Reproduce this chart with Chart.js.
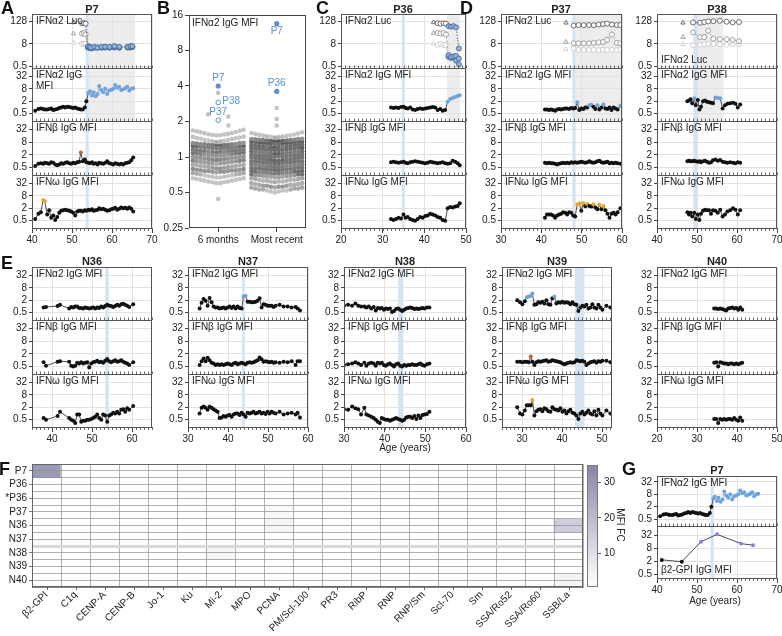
<!DOCTYPE html>
<html>
<head>
<meta charset="utf-8">
<script src="https://cdn.jsdelivr.net/npm/chart.js@4.4.1/dist/chart.umd.min.js"></script>
<style>
  html, body { margin: 0; background: #fff; }
  #fig { position: relative; width: 782px; height: 636px; overflow: hidden; font-family: "Liberation Sans", Arial, sans-serif; color: #222; }
  #fig canvas { position: absolute; }
  .letter { position: absolute; font-size: 18px; font-weight: bold; line-height: 1; color: #111; }
  .title { position: absolute; font-size: 11px; font-weight: bold; transform: translate(-50%, -50%); white-space: nowrap; }
  .axis-title { position: absolute; font-size: 10px; transform: translate(-50%, -50%); white-space: nowrap; }
  .axis-title.vertical { transform: translate(-50%, -50%) rotate(90deg); }
</style>
</head>
<body>
<div id="fig"></div>
<script>
// ---------- P7 ----------
const p7Ages = [40.8, 41.6, 42.2, 42.8, 43.2, 43.8, 44.3, 44.8, 45.3, 45.8,
  46.3, 46.8, 47.3, 47.8, 48.3, 48.8, 49.3, 49.8, 50.3, 50.8,
  51.3, 51.8, 52.2, 52.7, 53.2, 53.6, 54.1, 54.5, 55.0, 55.4,
  55.9, 56.4, 56.8, 57.3, 57.8, 58.3, 58.8, 59.3, 59.8, 60.3,
  60.8, 61.3, 61.8, 62.3, 62.8, 63.3, 63.8, 64.3, 64.8, 65.3]
const p7A2 = [0.7, 0.85, 0.9, 0.85, 0.8, 0.8, 0.85, 0.9, 0.75, 0.8,
  0.85, 0.95, 1.0, 1.1, 1.0, 1.1, 1.05, 1.0, 0.95, 1.0,
  0.9, 0.85, 0.8, 0.8, 1.0, 2.0, 5.0, 6.0, 3.8, 5.5,
  3.5, 4.5, 11, 7, 5.5, 8, 4.5, 6.5, 7, 8,
  12, 9, 10, 7, 7.5, 8.5, 10, 6.5, 8, 8.5]
const p7B = [0.6, 0.75, 0.8, 0.75, 0.85, 0.8, 0.75, 0.9, 0.85, 0.7,
  0.65, 0.7, 0.8, 0.75, 0.85, 0.9, 0.8, 0.75, 0.85, 0.8,
  0.9, 0.95, 2.6, 1.0, 1.2, 0.9, 0.85, 0.8, 0.9, 0.75,
  0.8, 0.7, 0.85, 0.8, 0.75, 0.85, 1.0, 0.8, 0.75, 0.7,
  0.8, 0.75, 0.7, 0.75, 0.7, 0.8, 0.85, 0.9, 1.1, 1.5]
const p7W = [0.6, 1.1, 1.3, 5.0, 4.3, 1.0, 1.6, 0.7, 0.9, 0.55,
  0.75, 1.2, 1.5, 1.6, 1.7, 1.6, 1.5, 1.4, 1.2, 0.9,
  1.4, 1.5, 1.5, 1.4, 1.6, 1.5, 1.7, 1.6, 1.8, 1.5,
  1.6, 1.7, 2.0, 1.8, 1.9, 1.7, 1.5, 1.6, 1.8, 1.9,
  2.1, 1.7, 1.9, 2.2, 2.0, 2.1, 1.9, 2.2, 1.9, 1.4]
const p7A2Pos = Array.from({ length: 24 }, (_, i) => 26 + i)
const p7BPos = [22]
const p7WPos = [3, 4]
const p7LucAges = [50.4, 52.5, 53.0, 53.4, 54.0, 54.4, 54.8, 55.6, 56.4, 57.4, 58.3, 59.4, 60.6, 61.8, 63.9, 64.6, 65.1]
const p7LucHigh = [110, 100, 100, 95, 6, 5.5, 5, 5.5, 5, 5.5, 5.5, 5.5, 6, 5.5, 5.5, 6, 6]
const p7LucMid = [28, 28, 30, 25, 5.5, 5, 5, 5, 5, 5, 5.5, 5, 5.5, 5, 5.5, 5.5, 5.5]
const p7LucLow = [9, 8, 8, 8, 5, 5, 4.5, 5, 5, 5, 5, 5, 5, 5, 5, 5, 5.5]
const p7LucPosFrom = 4
const p7Onset = [53.4, 54.2]
const p7After = [54.2, 65.8]

// ---------- P36 ----------
const p36Ages = [32.0, 32.6, 33.2, 33.8, 34.4, 35.0, 35.5, 36.0, 36.6, 37.2,
  37.8, 38.4, 39.0, 39.6, 40.2, 40.8, 41.4, 42.0, 42.6, 43.2,
  43.8, 44.4, 45.0, 45.6, 46.2, 46.8, 47.4, 48.0, 48.5]
const p36A2 = [1.0, 0.95, 1.0, 0.95, 1.05, 1.1, 0.95, 0.9, 1.0, 0.8,
  0.75, 0.85, 0.9, 0.85, 0.9, 0.95, 1.0, 1.05, 1.0, 0.75,
  0.85, 0.7, 0.75, 1.9, 2.6, 2.9, 3.2, 3.6, 3.9]
const p36B = [0.9, 0.95, 0.9, 0.85, 0.9, 0.95, 0.85, 0.8, 0.9, 0.95,
  1.0, 0.95, 0.9, 0.85, 0.8, 0.85, 0.95, 0.9, 0.85, 0.8,
  0.85, 0.9, 0.8, 0.75, 0.8, 1.05, 0.95, 0.8, 0.65]
const p36W = [0.6, 0.55, 0.6, 0.7, 0.65, 1.0, 0.7, 0.75, 0.6, 0.55,
  0.5, 0.6, 0.75, 0.7, 0.85, 0.9, 1.1, 1.0, 0.9, 0.75,
  0.7, 0.55, 0.5, 2.0, 2.3, 2.2, 2.4, 2.6, 3.5]
const p36A2Pos = [23, 24, 25, 26, 27, 28]
const p36LucAges = [42.2, 43.2, 43.9, 44.6, 45.2, 45.8, 46.4, 47.0, 47.6, 48.3]
const p36LucHigh = [110, 100, 95, 100, 95, 70, 65, 70, 60, 4.5]
const p36LucMid = [30, 30, 28, 30, 25, 2.0, 1.6, 1.7, 1.8, 1.3]
const p36LucLow = [8, 7, 8, 7, 7, 1.6, 1.4, 1.5, 1.0, 0.65]
const p36LucPosFrom = 5
const p36Onset = [34.6, 35.3]
const p36After = [45.4, 48.6]

// ---------- P37 ----------
const p37Ages = [40.9, 41.4, 41.9, 42.4, 42.9, 43.4, 43.9, 44.4, 44.9, 45.4,
  45.9, 46.4, 46.9, 47.4, 47.9, 48.4, 48.9, 49.4, 49.9, 50.4,
  50.9, 51.4, 51.9, 52.4, 52.9, 53.4, 53.9, 54.4, 54.9, 55.4,
  55.9, 56.4, 56.9, 57.4, 57.9, 58.4, 58.9, 59.6]
const p37A2 = [0.8, 0.8, 0.75, 0.8, 0.75, 0.7, 0.8, 0.85, 0.8, 0.85,
  0.9, 0.9, 0.85, 0.95, 0.9, 0.95, 1.8, 0.75, 0.9, 0.85,
  1.0, 1.0, 1.3, 1.35, 1.1, 0.85, 1.3, 0.8, 1.0, 1.4,
  0.9, 0.85, 1.0, 0.75, 1.0, 0.9, 0.8, 1.2]
const p37B = [0.85, 0.8, 0.85, 0.8, 0.8, 0.75, 0.7, 0.75, 0.8, 0.85,
  0.8, 0.85, 0.8, 0.9, 0.85, 0.9, 0.85, 0.9, 0.95, 0.9,
  0.85, 0.9, 1.0, 0.9, 0.85, 0.9, 1.0, 1.05, 0.9, 0.85,
  0.9, 0.95, 0.8, 0.85, 0.8, 0.85, 0.8, 0.75]
const p37W = [0.7, 1.0, 1.0, 1.0, 0.9, 0.7, 0.9, 1.0, 1.1, 1.3,
  1.2, 1.0, 1.3, 1.2, 0.9, 0.8, 3.0, 3.4, 1.5, 3.5,
  2.5, 3.2, 2.6, 2.4, 3.1, 2.2, 1.8, 3.0, 1.8, 2.6,
  1.6, 1.1, 0.7, 1.1, 1.2, 1.0, 1.3, 2.0]
const p37A2Pos = [16, 22, 23, 26, 29, 37]
const p37WPos = [16, 17, 19, 21, 24, 27, 29]
const p37LucAges = [46.1, 48.0, 49.2, 50.5, 51.8, 53.0, 54.2, 55.3, 56.3, 57.5, 58.7, 59.6]
const p37LucHigh = [105, 75, 80, 78, 80, 78, 85, 90, 95, 85, 80, 80]
const p37LucMid = [10, 8.5, 8.5, 8.5, 8.5, 9, 9.5, 10, 13, 25, 9, 8.5]
const p37LucLow = [4, 4.5, 3.8, 3.7, 3.7, 3.8, 3.6, 3.8, 3.7, 3.8, 3.7, 3.8]
const p37Onset = [47.7, 48.5]
const p37After = [48.5, 60]

// ---------- P38 ----------
const p38Ages = [47.6, 48.0, 48.4, 48.8, 49.3, 49.7, 50.2, 50.6, 51.0, 51.5,
  52.0, 52.5, 53.0, 53.5, 54.0, 54.6, 55.2, 55.8, 56.4, 57.0,
  57.6, 58.3, 59.0, 59.6, 60.2, 60.8]
const p38A2 = [2.0, 2.2, 2.5, 1.6, 2.8, 1.3, 2.3, 0.8, 1.1, 2.0,
  2.2, 1.9, 1.8, 1.7, 1.6, 3.0, 2.9, 2.8, 0.9, 1.3,
  1.5, 1.6, 1.7, 1.5, 1.0, 1.4]
const p38B = [1.0, 1.05, 1.0, 1.0, 1.05, 1.0, 0.95, 1.0, 0.9, 1.0,
  1.05, 0.95, 0.85, 0.9, 1.1, 1.2, 1.05, 1.15, 0.95, 0.9,
  0.85, 0.9, 0.85, 0.8, 0.9, 0.85]
const p38W = [1.3, 1.0, 1.2, 0.8, 1.2, 0.6, 1.0, 0.55, 1.1, 1.5,
  1.7, 1.6, 1.6, 1.1, 1.6, 1.5, 1.2, 1.7, 0.8, 1.0,
  1.4, 1.6, 2.0, 1.7, 1.0, 1.6]
const p38A2Pos = [4, 15, 16, 17]
const p38LucAges = [46.5, 49.0, 50.8, 51.8, 52.8, 54.1, 55.7, 57.4, 58.9, 60.5]
const p38LucHigh = [105, 110, 105, 115, 125, 128, 135, 120, 110, 115]
const p38LucMid = [18, 32, 18, 18, 40, 15, 14, 14, 13, 11]
const p38LucLow = [7.5, 6.5, 7, 7.5, 8, 8, 7.5, 7, 7.5, 7.5]
const p38Onset = [49.1, 50.0]
const p38After = [50.0, 56.6]

// ---------- N36 - N40 ----------
const n36Ages = [37.9, 38.5, 41.4, 42.0, 44.3, 44.8, 45.3, 45.8, 46.3, 46.8,
  47.3, 47.8, 48.3, 48.8, 49.3, 49.8, 50.3, 50.8, 51.3, 51.8,
  52.3, 52.8, 53.3, 53.8, 54.3, 54.8, 55.3, 55.8, 56.3, 56.8,
  57.3, 57.8, 58.3, 58.8, 59.3, 60.3]
const n36A2 = [0.9, 0.95, 1.05, 1.2, 0.8, 0.95, 0.9, 1.0, 1.0, 0.85,
  0.85, 0.8, 0.9, 0.85, 0.8, 0.85, 0.9, 0.8, 0.9, 0.85,
  1.0, 0.9, 1.05, 1.2, 1.1, 1.05, 0.95, 1.05, 1.2, 1.1,
  1.3, 1.35, 1.2, 1.1, 0.95, 1.3]
const n36B = [0.8, 0.55, 0.85, 0.9, 0.85, 0.55, 0.5, 0.55, 0.75, 0.7,
  0.8, 0.7, 0.75, 0.8, 0.45, 0.7, 0.8, 0.85, 0.95, 0.8,
  0.85, 0.75, 0.95, 1.15, 0.9, 0.8, 0.9, 1.0, 0.85, 0.9,
  1.0, 0.85, 0.75, 0.7, 0.6, 0.8]
const n36W = [0.6, 0.5, 0.75, 1.2, 0.6, 0.5, 0.45, 0.35, 0.9, 0.9,
  0.4, 0.45, 0.45, 0.5, 0.5, 0.55, 0.6, 0.7, 0.9, 0.6,
  0.5, 0.9, 0.8, 0.4, 0.8, 0.9, 1.1, 1.0, 1.2, 1.0,
  1.5, 1.6, 1.2, 1.8, 1.5, 2.3]
const n36Onset = [53.3, 54.2]

const n37Ages = [32.9, 33.4, 33.9, 34.4, 34.9, 35.4, 35.9, 36.4, 36.9, 37.4,
  37.9, 38.4, 38.9, 39.4, 39.9, 40.4, 40.9, 41.4, 41.9, 42.4,
  42.9, 43.4, 43.9, 44.4, 44.9, 45.4, 45.9, 46.4, 46.9, 47.4,
  47.9, 48.4, 48.9, 49.4, 49.9, 50.4, 50.9, 51.4, 51.9, 52.9,
  53.9, 54.9, 55.9, 56.9, 57.4, 58.0]
const n37A2 = [0.8, 1.5, 2.3, 1.9, 1.1, 2.6, 1.6, 1.0, 0.9, 0.9,
  0.8, 0.85, 0.9, 0.8, 0.9, 1.0, 0.85, 1.0, 0.8, 1.0,
  0.85, 0.8, 3.0, 3.3, 1.7, 1.7, 1.6, 1.6, 1.7, 1.9,
  2.5, 0.9, 1.3, 1.2, 1.1, 1.1, 1.1, 0.95, 1.1, 1.2,
  1.0, 1.0, 0.9, 0.95, 0.8, 0.65]
const n37B = [0.6, 0.9, 1.2, 0.9, 1.3, 1.0, 0.75, 0.7, 0.6, 0.65,
  0.6, 0.65, 0.6, 0.65, 0.7, 0.65, 0.6, 0.7, 0.75, 0.65,
  0.7, 0.75, 0.7, 0.65, 0.75, 0.8, 0.75, 0.8, 0.9, 1.0,
  1.35, 1.1, 0.85, 0.9, 0.85, 0.8, 0.85, 0.75, 0.8, 0.75,
  0.85, 0.8, 0.9, 0.6, 0.9, 0.9]
const n37W = [1.0, 1.9, 2.2, 1.9, 1.5, 2.1, 1.9, 1.6, 1.4, 1.2,
  0.6, 0.65, 0.75, 0.7, 0.8, 0.85, 0.7, 0.9, 1.0, 1.0,
  0.85, 1.1, 0.9, 0.7, 1.1, 1.0, 1.1, 1.2, 1.0, 1.1,
  1.2, 1.0, 1.1, 0.95, 1.2, 1.0, 1.2, 1.1, 1.0, 1.2,
  0.9, 1.0, 1.1, 0.9, 1.1, 0.65]
const n37A2Pos = [22, 23]
const n37Onset = [43.5, 44.2]

const n38Ages = [30.0, 31.0, 32.0, 32.8, 33.5, 34.2, 35.0, 35.5, 36.1, 36.7,
  37.3, 37.8, 38.3, 38.8, 39.3, 39.8, 40.3, 40.8, 41.3, 41.8,
  42.3, 42.8, 43.3, 43.8, 44.3, 44.8, 45.3, 45.8, 46.3, 46.8,
  47.3, 47.8, 48.3, 48.8, 49.3, 49.8, 50.4, 51.0]
const n38A2 = [1.1, 1.2, 1.1, 1.4, 1.1, 1.0, 1.0, 0.9, 1.0, 0.8,
  0.95, 0.65, 0.85, 0.8, 0.85, 0.7, 0.8, 0.75, 0.8, 0.55,
  0.6, 0.75, 0.8, 0.7, 0.6, 0.7, 0.8, 0.85, 0.9, 0.85,
  0.75, 0.8, 0.75, 0.8, 0.85, 0.8, 0.9, 0.9]
const n38B = [0.6, 0.65, 0.7, 0.8, 0.7, 0.6, 0.75, 0.55, 0.7, 0.75,
  0.7, 0.55, 0.75, 0.7, 0.75, 0.6, 0.55, 0.65, 0.7, 0.6,
  0.5, 0.65, 0.7, 0.55, 0.5, 0.6, 0.55, 0.6, 0.6, 0.65,
  0.6, 0.6, 0.65, 0.7, 0.6, 0.55, 0.65, 0.7]
const n38W = [1.6, 1.5, 2.2, 1.8, 1.6, 0.9, 1.9, 0.9, 0.8, 0.7,
  0.6, 0.5, 0.4, 0.35, 0.6, 0.55, 0.5, 0.5, 0.45, 0.5,
  0.55, 0.6, 0.55, 0.5, 0.45, 0.5, 0.65, 0.7, 0.7, 0.6,
  0.75, 0.55, 0.8, 0.6, 0.85, 0.9, 0.95, 1.2]
const n38Onset = [43.3, 44.6]

const n39Ages = [28.8, 29.5, 30.1, 30.7, 31.2, 31.7, 32.2, 32.6, 33.1, 33.6,
  34.1, 34.6, 35.1, 35.6, 36.1, 36.6, 37.1, 37.6, 38.1, 38.6,
  39.1, 39.6, 40.1, 40.6, 41.1, 41.6, 42.1, 42.6, 43.1, 43.6,
  44.1, 44.6, 45.1, 45.6, 46.1, 46.6, 47.1, 47.6, 48.1, 48.6,
  49.1, 49.6, 50.1, 51.1, 52.1, 52.9]
const n39A2 = [2.0, 1.6, 1.3, 1.8, 2.8, 3.0, 3.2, 4.2, 1.2, 1.3,
  1.6, 1.5, 1.7, 1.4, 2.0, 1.3, 1.2, 2.5, 3.0, 1.4,
  1.6, 1.5, 1.7, 1.5, 1.6, 1.5, 1.3, 1.6, 1.3, 1.2,
  0.6, 0.9, 1.1, 1.0, 1.2, 0.8, 0.9, 1.3, 0.9, 0.8,
  1.2, 0.9, 0.7, 1.1, 0.9, 0.85]
const n39B = [0.85, 0.85, 0.8, 0.85, 0.85, 0.8, 1.5, 0.85, 0.6, 0.8,
  0.9, 0.85, 0.9, 0.95, 1.0, 0.85, 0.9, 1.0, 0.95, 0.9,
  0.85, 0.8, 0.7, 0.65, 0.7, 0.75, 0.8, 0.75, 0.8, 1.0,
  0.95, 0.9, 0.95, 0.85, 0.6, 0.7, 0.8, 0.85, 0.9, 0.75,
  0.9, 0.85, 0.95, 0.95, 0.8, 0.85]
const n39W = [2.0, 1.0, 0.9, 1.4, 2.5, 2.5, 2.5, 4.5, 0.8, 1.3,
  1.5, 1.6, 1.3, 1.8, 1.6, 1.3, 1.2, 2.0, 1.6, 1.5,
  1.4, 1.8, 1.2, 1.4, 1.0, 1.3, 1.5, 1.1, 1.0, 0.8,
  0.55, 1.0, 1.2, 0.9, 1.1, 1.4, 1.0, 0.9, 1.3, 0.8,
  1.5, 1.0, 0.8, 1.4, 1.0, 1.2]
const n39A2Pos = [4, 5, 6, 7, 18]
const n39BPos = [6]
const n39WPos = [7]
const n39Onset = [43.2, 45.6]

const n40Ages = [34.3, 34.8, 35.3, 35.8, 36.3, 36.8, 37.3, 37.8, 38.3, 38.8, 39.3, 39.8, 40.3, 40.8, 41.3]
const n40A2 = [0.8, 0.8, 0.75, 0.8, 0.75, 0.7, 0.65, 0.8, 0.85, 0.9, 0.8, 0.85, 0.7, 0.9, 0.7]
const n40B = [0.75, 0.8, 0.5, 0.8, 0.75, 0.7, 0.7, 0.65, 0.7, 0.7, 0.65, 0.7, 0.65, 0.7, 0.75]
const n40W = [0.55, 0.55, 0.35, 0.55, 0.5, 0.55, 0.5, 0.55, 0.55, 0.5, 0.6, 0.5, 0.45, 0.65, 0.45]
const n40Onset = [36.6, 36.9]

// ---------- G: P7 beta2-GPI ----------
const gpiAges = [41.2, 46.2, 51.0, 55.0, 61.0, 64.0]
const gpiMfi = [2.3, 1.9, 16, 35, 13, 11]
const gpiPos = [2, 3, 4, 5]

// ---------- B: IFNa2 IgG MFI, controls ----------
const bGroups = ['6 months', 'Most recent']
const bTicks = [0.25, 0.5, 1, 2, 4, 8, 16]
const sixMonths = [
  1.70, 1.68, 1.67, 1.65, 1.63, 1.62, 1.60, 1.59, 1.57, 1.56, 1.55, 1.54, 1.53, 1.52,
  1.49, 1.48, 1.46, 1.45, 1.44, 1.43, 1.42, 1.40, 1.39, 1.38, 1.37, 1.36, 1.35, 1.34,
  1.32, 1.31, 1.31, 1.30, 1.29, 1.29, 1.28, 1.28, 1.27, 1.27, 1.26, 1.26, 1.25, 1.25,
  1.24, 1.24, 1.23, 1.23, 1.22, 1.22, 1.21, 1.21, 1.20, 1.20, 1.19, 1.19, 1.18, 1.18,
  1.16, 1.15, 1.15, 1.14, 1.14, 1.13, 1.13, 1.12, 1.12, 1.11, 1.11, 1.10, 1.10, 1.09,
  1.09, 1.08, 1.08, 1.07, 1.07, 1.06, 1.06, 1.05, 1.05, 1.04, 1.04, 1.03, 1.03, 1.02,
  1.01, 1.00, 1.00, 0.99, 0.99, 0.98, 0.98, 0.97, 0.97, 0.96, 0.96, 0.95, 0.95, 0.94,
  0.94, 0.93, 0.93, 0.92, 0.92, 0.91, 0.91, 0.90, 0.90, 0.89, 0.89, 0.88, 0.88, 0.87,
  0.86, 0.86, 0.85, 0.85, 0.84, 0.84, 0.83, 0.83, 0.82, 0.82, 0.81, 0.81, 0.80, 0.80,
  0.79, 0.79, 0.78, 0.78, 0.77, 0.77, 0.77, 0.76, 0.76, 0.76, 0.75, 0.75, 0.75, 0.74,
  0.73, 0.73, 0.72, 0.72, 0.71, 0.71, 0.70, 0.70, 0.69, 0.69, 0.68, 0.68, 0.67, 0.67,
  0.66, 0.66, 0.65, 0.65, 0.64, 0.64, 0.63, 0.63, 0.62, 0.62, 0.61, 0.61, 0.60, 0.60]
const mostRecent = [
  1.62, 1.60, 1.58, 1.57, 1.55, 1.54, 1.53, 1.52, 1.51, 1.50, 1.49, 1.48, 1.47, 1.46,
  1.43, 1.42, 1.42, 1.41, 1.40, 1.40, 1.39, 1.39, 1.38, 1.38, 1.37, 1.37, 1.36, 1.36,
  1.35, 1.35, 1.34, 1.34, 1.33, 1.33, 1.32, 1.32, 1.31, 1.31, 1.30, 1.30, 1.29, 1.29,
  1.27, 1.26, 1.26, 1.25, 1.25, 1.24, 1.24, 1.23, 1.23, 1.22, 1.22, 1.21, 1.21, 1.20,
  1.20, 1.19, 1.19, 1.18, 1.18, 1.17, 1.17, 1.16, 1.16, 1.15, 1.15, 1.15, 1.14, 1.14,
  1.12, 1.12, 1.11, 1.11, 1.10, 1.10, 1.09, 1.09, 1.08, 1.08, 1.07, 1.07, 1.06, 1.06,
  1.05, 1.05, 1.04, 1.04, 1.03, 1.03, 1.03, 1.02, 1.02, 1.02, 1.01, 1.01, 1.01, 1.00,
  0.99, 0.99, 0.98, 0.98, 0.97, 0.97, 0.96, 0.96, 0.95, 0.95, 0.94, 0.94, 0.93, 0.93,
  0.92, 0.92, 0.92, 0.91, 0.91, 0.91, 0.90, 0.90, 0.90, 0.89, 0.89, 0.89, 0.88, 0.88,
  0.87, 0.87, 0.86, 0.86, 0.85, 0.85, 0.84, 0.84, 0.84, 0.83, 0.83, 0.83, 0.82, 0.82,
  0.81, 0.81, 0.81, 0.80, 0.80, 0.80, 0.79, 0.79, 0.79, 0.78, 0.78, 0.78, 0.77, 0.77,
  0.76, 0.76, 0.75, 0.75, 0.75, 0.74, 0.74, 0.74, 0.73, 0.73, 0.73, 0.72, 0.72, 0.72,
  0.71, 0.71, 0.71, 0.70, 0.70, 0.70, 0.69, 0.69, 0.69, 0.68, 0.68, 0.68, 0.67, 0.67,
  0.66, 0.66, 0.65, 0.65, 0.64, 0.64, 0.64, 0.63, 0.63, 0.63, 0.62, 0.62, 0.62, 0.61,
  0.60, 0.60, 0.59, 0.59, 0.58, 0.58, 0.58, 0.57, 0.57, 0.57, 0.56, 0.56, 0.56, 0.55,
  0.55, 0.55, 0.54, 0.54, 0.54, 0.53, 0.53, 0.53, 0.52, 0.52, 0.52, 0.51, 0.51, 0.50]
const sixMonthsOutliers = [3.5, 2.3, 2.2, 1.85, 0.44]
const mostRecentOutliers = [2.6, 2.1, 1.85]
const sixMonthsPatients = [{ id: 'P7', v: 4.0, hollow: false, side: 'above' }, { id: 'P38', v: 2.9, hollow: true, side: 'right' }, { id: 'P37', v: 2.05, hollow: true, side: 'above' }]
const mostRecentPatients = [{ id: 'P7', v: 13.5, hollow: false, side: 'below' }, { id: 'P36', v: 3.6, hollow: false, side: 'above' }]

// ---------- F: autoantigen MFI fold change ----------
const antigens = ['β2-GPI', 'C1q', 'CENP-A', 'CENP-B', 'Jo-1', 'Ku', 'Mi-2', 'MPO', 'PCNA', 'PM/Scl-100',
  'PR3', 'RibP', 'RNP', 'RNP/Sm', 'Scl-70', 'Sm', 'SSA/Ro52', 'SSA/Ro60', 'SSB/La']
const subjects = ['P7', 'P36', '*P36', 'P37', 'N36', 'N37', 'N38', 'N39', 'N40']
const mfiFc = [
  [29, 1, 1, 1, 1, 2.2, 1, 1, 1, 1, 1, 1, 1, 1, 1, 1, 1, 1, 1],
  [1, 1, 1.3, 1, 1, 1.8, 1, 1, 1, 1, 1, 1, 1, 1, 1, 1, 1, 1, 1],
  [1, 1, 1, 1, 1, 1.5, 1, 1, 1, 1.8, 1.8, 1, 1, 1, 1.5, 1, 1, 1, 1],
  [1, 1, 1.2, 1, 1, 1, 1.8, 1, 2.8, 1, 1, 1, 1, 1, 1, 1, 1, 1, 1],
  [1, 1, 1, 1.5, 1, 1, 1, 1, 3.5, 1.8, 1, 1, 1.8, 1, 1, 1, 1, 1, 15],
  [1.5, 1, 1, 1, 1, 1, 1, 1, 1, 1, 1, 1, 1, 1, 1, 1, 1, 1, 1],
  [1, 1, 1, 1, 1, 1, 3.5, 1, 1, 1, 1, 1, 1, 1, 1, 1, 1, 1, 1],
  [1, 1, 1, 1, 1, 1, 1, 1, 1, 1, 1, 1, 1, 1, 1.8, 1, 1, 1, 1],
  [1, 1, 1, 1, 1, 1, 1, 1, 1, 1, 1, 1, 1, 1, 1, 1, 1, 1, 4]]
const fcTicks = [10, 20, 30]

// ---------- shared look ----------
Chart.defaults.font.family = '"Liberation Sans", Arial, sans-serif'
Chart.defaults.font.size = 10
Chart.defaults.color = '#222'
Chart.defaults.animation = false
Chart.defaults.responsive = false
Chart.defaults.events = []
Chart.defaults.plugins.legend.display = false
Chart.defaults.plugins.tooltip.enabled = false

const BLUE = '#6fa3dc', BROWN = '#c4612b', ORANGE = '#e8a42a', PURPLE = '#8b80e0'
const LUC_GREYS = ['#4d4d4d', '#8c8c8c', '#c4c4c4']
const BAND_BLUE = '#d5e4f2', BAND_GREY = '#ededed'
const MFI_Y = [0.2, 80], LUC_Y = [0.36, 310]
const MFI_TICKS = [0.5, 2, 8, 32], LUC_TICKS = [0.5, 2, 8, 32, 128]
const AXW = 30, PAD = 8
const FONT = '10px "Liberation Sans", Arial, sans-serif'

const fig = document.getElementById('fig')
function addCanvas(x, y, w, h) {
  const c = document.createElement('canvas')
  c.width = w
  c.height = h
  c.style.left = x + 'px'
  c.style.top = y + 'px'
  fig.appendChild(c)
  return c
}
function addText(cls, str, x, y) {
  const d = document.createElement('div')
  d.className = cls
  d.textContent = str
  d.style.left = x + 'px'
  d.style.top = y + 'px'
  fig.appendChild(d)
}
function decades(min, max) {
  const t = []
  for (let v = Math.ceil(min / 10) * 10; v <= max; v += 10) t.push(v)
  return t
}
const blueBand = r => ({ from: r[0], to: r[1], color: BAND_BLUE })
const greyBand = r => ({ from: r[0], to: r[1], color: BAND_GREY })

function mfiSeries(ages, vals, pos, color, plainLine) {
  const hit = i => pos.includes(i)
  return {
    data: ages.map((x, i) => ({ x, y: vals[i] })),
    showLine: true,
    borderColor: '#1e1e1e',
    borderWidth: 0.8,
    pointRadius: 2,
    pointBorderWidth: 0,
    pointBackgroundColor: c => (hit(c.dataIndex) ? color : '#111'),
    segment: { borderColor: c => (!plainLine && hit(c.p0DataIndex) && hit(c.p1DataIndex) ? color : '#1e1e1e') }
  }
}
function lucSeries(ages, vals, posFrom, grey) {
  const pos = i => posFrom >= 0 && i >= posFrom
  return {
    data: ages.map((x, i) => ({ x, y: vals[i] })),
    showLine: true,
    borderColor: grey,
    borderWidth: 0.8,
    borderDash: [1.5, 1.5],
    segment: { borderColor: c => (c.p0DataIndex === 0 ? 'rgba(0,0,0,0)' : grey) },
    pointStyle: c => (c.dataIndex === 0 ? 'triangle' : 'circle'),
    pointRadius: 2.5,
    pointBorderWidth: 0.8,
    pointBackgroundColor: c => (pos(c.dataIndex) ? '#8cb3e2' : '#fff'),
    pointBorderColor: c => (pos(c.dataIndex) ? '#3f5f8a' : grey)
  }
}
function lucSet(ages, high, mid, low, posFrom) {
  return [lucSeries(ages, high, posFrom, LUC_GREYS[0]), lucSeries(ages, mid, posFrom, LUC_GREYS[1]), lucSeries(ages, low, posFrom, LUC_GREYS[2])]
}

function panelDeco(p) {
  return {
    id: 'panelDeco',
    beforeDraw(chart) {
      const { ctx, chartArea: a, scales: { x } } = chart
      ctx.save()
      for (const b of p.bands) {
        const x0 = Math.max(a.left, x.getPixelForValue(b.from))
        const x1 = Math.min(a.right, x.getPixelForValue(b.to))
        ctx.fillStyle = b.color
        ctx.fillRect(x0, a.top, x1 - x0, a.bottom - a.top)
      }
      ctx.restore()
    },
    afterDraw(chart) {
      const { ctx, chartArea: a, scales: { x } } = chart
      ctx.save()
      ctx.strokeStyle = '#444'
      ctx.lineWidth = 0.8
      ctx.beginPath()
      for (let v = Math.ceil(x.min); v <= x.max; v++) {
        const px = Math.round(x.getPixelForValue(v)) + 0.5
        ctx.moveTo(px, a.bottom - 1)
        ctx.lineTo(px, p.showX ? a.bottom + 2 : a.bottom - 3.5)
      }
      ctx.stroke()
      ctx.strokeStyle = '#555'
      ctx.lineWidth = 1
      ctx.strokeRect(a.left + 0.5, a.top + 0.5, a.right - a.left - 1, a.bottom - a.top - 1)
      ctx.fillStyle = '#222'
      ctx.font = FONT
      ctx.textBaseline = 'top'
      const lines = p.label.split('\n')
      const y0 = p.labelBottom ? a.bottom - 3 - 11 * lines.length : a.top + 2
      lines.forEach((s, i) => ctx.fillText(s, a.left + 4, y0 + 11 * i))
      ctx.restore()
    }
  }
}

function tsPanel(p) {
  const xh = p.showX ? 16 : 0
  const cv = addCanvas(p.left - AXW, p.top - PAD, AXW + p.w + PAD, PAD + p.h + 1 + (p.showX ? xh : PAD))
  new Chart(cv, {
    type: 'scatter',
    data: { datasets: p.datasets },
    options: {
      layout: { padding: { top: PAD, right: PAD, bottom: p.showX ? 0 : PAD, left: 0 } },
      scales: {
        x: {
          type: 'linear', min: p.xr[0], max: p.xr[1],
          afterFit: s => { s.height = xh },
          afterBuildTicks: s => { s.ticks = decades(p.xr[0], p.xr[1]).map(v => ({ value: v })) },
          ticks: { display: p.showX, padding: 1, maxRotation: 0, callback: v => v },
          grid: { color: '#e2e2e2', drawTicks: p.showX, tickLength: 4, tickColor: '#444' },
          border: { display: false }
        },
        y: {
          type: 'logarithmic', min: p.yr[0], max: p.yr[1],
          afterFit: s => { s.width = AXW },
          afterBuildTicks: s => { s.ticks = p.yTicks.map(v => ({ value: v })) },
          ticks: { padding: 2, callback: v => v },
          grid: { color: '#e2e2e2', tickLength: 3, tickColor: '#444' },
          border: { display: false }
        }
      }
    },
    plugins: [panelDeco(p)]
  })
}

function column(c) {
  let y = c.top
  c.panels.forEach((pn, k) => {
    tsPanel(Object.assign({ yr: MFI_Y, yTicks: MFI_TICKS, bands: [], label: '' }, pn, {
      left: c.left, top: y, w: c.w, h: c.heights[k], xr: c.xr, showX: k === c.panels.length - 1
    }))
    y += c.heights[k]
  })
}

const TOP_H = [54, 53, 54, 53], E_H = [53, 54, 53]

// ---------- A ----------
column({ left: 32, top: 14, w: 120, xr: [40, 70], heights: TOP_H, panels: [
  { label: 'IFNα2 Luc', yr: LUC_Y, yTicks: LUC_TICKS, bands: [greyBand(p7After), blueBand(p7Onset)], datasets: lucSet(p7LucAges, p7LucHigh, p7LucMid, p7LucLow, p7LucPosFrom) },
  { label: 'IFNα2 IgG\nMFI', bands: [greyBand(p7After), blueBand(p7Onset)], datasets: [mfiSeries(p7Ages, p7A2, p7A2Pos, BLUE)] },
  { label: 'IFNβ IgG MFI', bands: [blueBand(p7Onset)], datasets: [mfiSeries(p7Ages, p7B, p7BPos, BROWN)] },
  { label: 'IFNω IgG MFI', bands: [blueBand(p7Onset)], datasets: [mfiSeries(p7Ages, p7W, p7WPos, ORANGE)] }
]})

// ---------- C ----------
column({ left: 341, top: 14, w: 125, xr: [20, 50], heights: TOP_H, panels: [
  { label: 'IFNα2 Luc', yr: LUC_Y, yTicks: LUC_TICKS, bands: [greyBand(p36After), blueBand(p36Onset)], datasets: lucSet(p36LucAges, p36LucHigh, p36LucMid, p36LucLow, p36LucPosFrom) },
  { label: 'IFNα2 IgG MFI', bands: [greyBand(p36After), blueBand(p36Onset)], datasets: [mfiSeries(p36Ages, p36A2, p36A2Pos, BLUE)] },
  { label: 'IFNβ IgG MFI', bands: [blueBand(p36Onset)], datasets: [mfiSeries(p36Ages, p36B, [], BROWN)] },
  { label: 'IFNω IgG MFI', bands: [blueBand(p36Onset)], datasets: [mfiSeries(p36Ages, p36W, [], ORANGE)] }
]})

// ---------- D ----------
column({ left: 501, top: 14, w: 121, xr: [30, 60], heights: TOP_H, panels: [
  { label: 'IFNα2 Luc', yr: LUC_Y, yTicks: LUC_TICKS, bands: [greyBand(p37After), blueBand(p37Onset)], datasets: lucSet(p37LucAges, p37LucHigh, p37LucMid, p37LucLow, -1) },
  { label: 'IFNα2 IgG MFI', bands: [greyBand(p37After), blueBand(p37Onset)], datasets: [mfiSeries(p37Ages, p37A2, p37A2Pos, BLUE)] },
  { label: 'IFNβ IgG MFI', bands: [blueBand(p37Onset)], datasets: [mfiSeries(p37Ages, p37B, [], BROWN)] },
  { label: 'IFNω IgG MFI', bands: [blueBand(p37Onset)], datasets: [mfiSeries(p37Ages, p37W, p37WPos, ORANGE)] }
]})
column({ left: 657, top: 14, w: 120, xr: [40, 70], heights: TOP_H, panels: [
  { label: 'IFNα2 Luc', labelBottom: true, yr: LUC_Y, yTicks: LUC_TICKS, bands: [greyBand(p38After), blueBand(p38Onset)], datasets: lucSet(p38LucAges, p38LucHigh, p38LucMid, p38LucLow, -1) },
  { label: 'IFNα2 IgG MFI', bands: [greyBand(p38After), blueBand(p38Onset)], datasets: [mfiSeries(p38Ages, p38A2, p38A2Pos, BLUE)] },
  { label: 'IFNβ IgG MFI', bands: [blueBand(p38Onset)], datasets: [mfiSeries(p38Ages, p38B, [], BROWN)] },
  { label: 'IFNω IgG MFI', bands: [blueBand(p38Onset)], datasets: [mfiSeries(p38Ages, p38W, [], ORANGE)] }
]})

// ---------- E ----------
function controlColumn(left, w, xr, onset, ages, a2, b, wv, a2Pos, bPos, wPos) {
  column({ left, top: 267, w, xr, heights: E_H, panels: [
    { label: 'IFNα2 IgG MFI', bands: [blueBand(onset)], datasets: [mfiSeries(ages, a2, a2Pos, BLUE)] },
    { label: 'IFNβ IgG MFI', bands: [blueBand(onset)], datasets: [mfiSeries(ages, b, bPos, BROWN)] },
    { label: 'IFNω IgG MFI', bands: [blueBand(onset)], datasets: [mfiSeries(ages, wv, wPos, ORANGE)] }
  ]})
}
controlColumn(32, 120, [35, 65], n36Onset, n36Ages, n36A2, n36B, n36W, [], [], [])
controlColumn(188, 120, [30, 60], n37Onset, n37Ages, n37A2, n37B, n37W, n37A2Pos, [], [])
controlColumn(344, 122, [30, 60], n38Onset, n38Ages, n38A2, n38B, n38W, [], [], [])
controlColumn(502, 110, [25, 52.5], n39Onset, n39Ages, n39A2, n39B, n39W, n39A2Pos, n39BPos, n39WPos)
controlColumn(657, 120, [20, 50], n40Onset, n40Ages, n40A2, n40B, n40W, [], [], [])

// ---------- G ----------
column({ left: 657, top: 476, w: 120, xr: [40, 70], heights: [50, 52], panels: [
  { label: 'IFNα2 IgG MFI', yr: [0.21, 61], bands: [blueBand(p7Onset)], datasets: [mfiSeries(p7Ages, p7A2, p7A2Pos, BLUE)] },
  { label: 'β2-GPI IgG MFI', labelBottom: true, yr: [0.3, 85], bands: [blueBand(p7Onset)], datasets: [mfiSeries(gpiAges, gpiMfi, gpiPos, PURPLE, true)] }
]})

// ---------- B ----------
const B_UNIT = 58.5, SLOT = 3.9 / B_UNIT, OCTAVE = 35.5
function chevronRows(values, center) {
  const sorted = [...values].sort((a, b) => b - a)
  const pts = []
  for (let i = 0; i < sorted.length; i += 14) {
    const row = sorted.slice(i, i + 14).sort((a, b) => a - b)
    const slots = row.map((_, j) => j - (row.length - 1) / 2).sort((a, b) => Math.abs(a) - Math.abs(b) || a - b)
    row.forEach((v, k) => {
      // shade by how many donors sit close to this value
      const near = values.filter(u => Math.abs(Math.log2(u / v)) < 0.08).length
      pts.push({ x: center + slots[k] * SLOT, y: v, shade: Math.min(Math.max((near - 14) / 14, 0), 1) })
    })
  }
  return pts
}
function placeFree(items, center, placed) {
  const out = []
  items.forEach(it => {
    for (let k = 0; k < 30; k++) {
      const x = center + (k % 2 ? 1 : -1) * Math.ceil(k / 2) * SLOT * 2.6
      const clash = placed.concat(out).some(p => Math.hypot((p.x - x) * B_UNIT, Math.log2(p.y / it.v) * OCTAVE) < 6)
      if (!clash) { out.push(Object.assign({ shade: 0 }, it, { x, y: it.v })); break }
    }
  })
  return out
}
function swarmGroup(bulk, outliers, patients, center) {
  const rows = chevronRows(bulk, center)
  const pats = placeFree([...patients].sort((a, b) => a.v - b.v), center, rows)
  const grey = placeFree([...outliers].sort((a, b) => a - b).map(v => ({ v })), center, rows.concat(pats))
  return { grey: rows.concat(grey), pats }
}
const bSix = swarmGroup(sixMonths, sixMonthsOutliers, sixMonthsPatients, 0.5)
const bRecent = swarmGroup(mostRecent, mostRecentOutliers, mostRecentPatients, 1.5)
const bGrey = bSix.grey.concat(bRecent.grey).sort((a, b) => b.shade - a.shade)
const bPats = bSix.pats.concat(bRecent.pats)
const shadeColor = s => { const g = Math.round(196 - s * 110); return `rgb(${g},${g},${g})` }

const framePlugin = color => ({
  id: 'frame',
  afterDraw(chart) {
    const { ctx, chartArea: a } = chart
    ctx.save()
    ctx.strokeStyle = color
    ctx.lineWidth = 1
    ctx.strokeRect(Math.round(a.left) + 0.5, Math.round(a.top) + 0.5, Math.round(a.right - a.left) - 1, Math.round(a.bottom - a.top) - 1)
    ctx.restore()
  }
})
const bLabels = {
  id: 'bLabels',
  afterDatasetsDraw(chart) {
    const { ctx, chartArea: a, scales: { x, y } } = chart
    ctx.save()
    ctx.font = FONT
    ctx.fillStyle = '#222'
    ctx.textBaseline = 'top'
    ctx.fillText('IFNα2 IgG MFI', a.left + 3, a.top + 3)
    ctx.fillStyle = '#5b8fd0'
    ctx.textBaseline = 'middle'
    bPats.forEach(p => {
      const px = x.getPixelForValue(p.x), py = y.getPixelForValue(p.y)
      if (p.side === 'right') { ctx.textAlign = 'left'; ctx.fillText(p.id, px + 4, py - 1) }
      else { ctx.textAlign = 'center'; ctx.fillText(p.id, px, p.side === 'above' ? py - 8 : py + 8) }
    })
    ctx.restore()
  }
}
new Chart(addCanvas(159, 7, 155, 237), {
  type: 'scatter',
  data: { datasets: [
    { data: bPats.filter(p => !p.hollow), pointRadius: 2.6, pointBackgroundColor: '#5b8fd0', pointBorderWidth: 0 },
    { data: bPats.filter(p => p.hollow), pointRadius: 2.3, pointBackgroundColor: '#fff', pointBorderColor: '#5b8fd0', pointBorderWidth: 1 },
    { data: bGrey, pointRadius: 2.3, pointBackgroundColor: c => shadeColor(c.raw.shade), pointBorderWidth: 0 }
  ]},
  options: {
    layout: { padding: { top: 8, right: 8, left: 0, bottom: 0 } },
    scales: {
      x: {
        type: 'linear', min: 0, max: 2,
        afterFit: s => { s.height = 16 },
        afterBuildTicks: s => { s.ticks = [0.5, 1.5].map(v => ({ value: v })) },
        ticks: { padding: 2, maxRotation: 0, callback: (v, i) => bGroups[i] },
        grid: { drawOnChartArea: false, tickLength: 4, color: '#444' },
        border: { display: false }
      },
      y: {
        type: 'logarithmic', min: 0.25, max: 16,
        afterFit: s => { s.width = AXW },
        afterBuildTicks: s => { s.ticks = bTicks.map(v => ({ value: v })) },
        ticks: { padding: 2, callback: v => v },
        grid: { drawOnChartArea: false, tickLength: 4, color: '#444' },
        border: { display: false }
      }
    }
  },
  plugins: [framePlugin('#444'), bLabels]
})

// ---------- F ----------
const FC_MIN = 0.4, FC_MAX = 35
function fcColor(v) {
  const t = Math.min(Math.max((v - 1) / 34, 0), 1)
  const top = [135, 133, 168]
  return 'rgb(' + top.map(c => Math.round(255 - t * (255 - c))).join(',') + ')'
}
const centerTicks = {
  id: 'centerTicks',
  afterDraw(chart) {
    const { ctx, chartArea: a, scales: { x } } = chart
    ctx.save()
    ctx.strokeStyle = '#444'
    ctx.lineWidth = 0.8
    ctx.beginPath()
    antigens.forEach((_, i) => {
      const px = Math.round(x.getPixelForValue(i)) + 0.5
      ctx.moveTo(px, a.bottom)
      ctx.lineTo(px, a.bottom + 3)
    })
    ctx.stroke()
    ctx.restore()
  }
}
new Chart(addCanvas(0, 456, 585, 180), {
  type: 'bar',
  data: {
    labels: antigens,
    datasets: subjects.map((s, r) => ({
      data: antigens.map(() => [r, r + 1]),
      backgroundColor: mfiFc[r].map(fcColor),
      grouped: false,
      barPercentage: 1,
      categoryPercentage: 1,
      borderWidth: 0
    }))
  },
  options: {
    layout: { padding: { top: 8, right: 2, left: 0, bottom: 0 } },
    scales: {
      x: {
        afterFit: s => { s.height = 49 },
        ticks: { autoSkip: false, minRotation: 45, maxRotation: 45, padding: 2 },
        grid: { z: 1, offset: true, color: '#8f8f8f', lineWidth: 0.7, drawTicks: false },
        border: { z: 1, color: '#666' }
      },
      y: {
        type: 'linear', min: 0, max: 9, reverse: true,
        afterFit: s => { s.width = 32 },
        afterBuildTicks: s => { s.ticks = Array.from({ length: 19 }, (_, i) => ({ value: i / 2 })) },
        ticks: { autoSkip: false, padding: 2, callback: v => (v % 1 === 0.5 ? subjects[Math.floor(v)] : '') },
        grid: {
          z: 1,
          color: c => (c.tick && c.tick.value === 6 ? '#d9d9d9' : '#8f8f8f'),
          lineWidth: c => (c.tick && c.tick.value === 6 ? 3 : 0.7),
          tickLength: 3,
          tickColor: c => (c.tick && c.tick.value % 1 === 0.5 ? '#444' : 'rgba(0,0,0,0)')
        },
        border: { z: 1, color: '#666' }
      }
    }
  },
  plugins: [centerTicks, framePlugin('#666')]
})

// colour bar
new Chart(addCanvas(587, 456, 40, 140), {
  type: 'scatter',
  data: { datasets: [] },
  options: {
    layout: { padding: { top: 8, bottom: 9, left: 0, right: 0 } },
    scales: {
      x: { display: false, min: 0, max: 1 },
      y: {
        position: 'right', min: FC_MIN, max: FC_MAX,
        afterFit: s => { s.width = 29 },
        afterBuildTicks: s => { s.ticks = fcTicks.map(v => ({ value: v })) },
        ticks: { padding: 3, callback: v => v },
        grid: { drawOnChartArea: false, tickLength: 3, color: '#555' },
        border: { display: false }
      }
    }
  },
  plugins: [{
    id: 'fcGradient',
    beforeDraw(chart) {
      const { ctx, chartArea: a } = chart
      const g = ctx.createLinearGradient(0, a.bottom, 0, a.top)
      for (let k = 0; k <= 10; k++) {
        const v = FC_MIN + (FC_MAX - FC_MIN) * k / 10
        g.addColorStop(k / 10, fcColor(v))
      }
      ctx.save()
      ctx.fillStyle = g
      ctx.fillRect(a.left, a.top, a.right - a.left, a.bottom - a.top)
      ctx.restore()
    }
  }, framePlugin('#777')]
})

// ---------- texts ----------
addText('letter', 'A', 1, -1)
addText('letter', 'B', 157, -1)
addText('letter', 'C', 316, -1)
addText('letter', 'D', 460, -1)
addText('letter', 'E', 1, 254)
addText('letter', 'F', -1, 460)
addText('letter', 'G', 622, 460)
;[['P7', 92, 9], ['P36', 403, 9], ['P37', 561, 9], ['P38', 717, 9],
  ['N36', 92, 261], ['N37', 248, 261], ['N38', 405, 261], ['N39', 557, 261], ['N40', 717, 261],
  ['P7', 717, 470]].forEach(t => addText('title', t[0], t[1], t[2]))
addText('axis-title', 'Age (years)', 405, 447)
addText('axis-title', 'Age (years)', 715, 600)
addText('axis-title vertical', 'MFI FC', 620, 525)
</script>
</body>
</html>
